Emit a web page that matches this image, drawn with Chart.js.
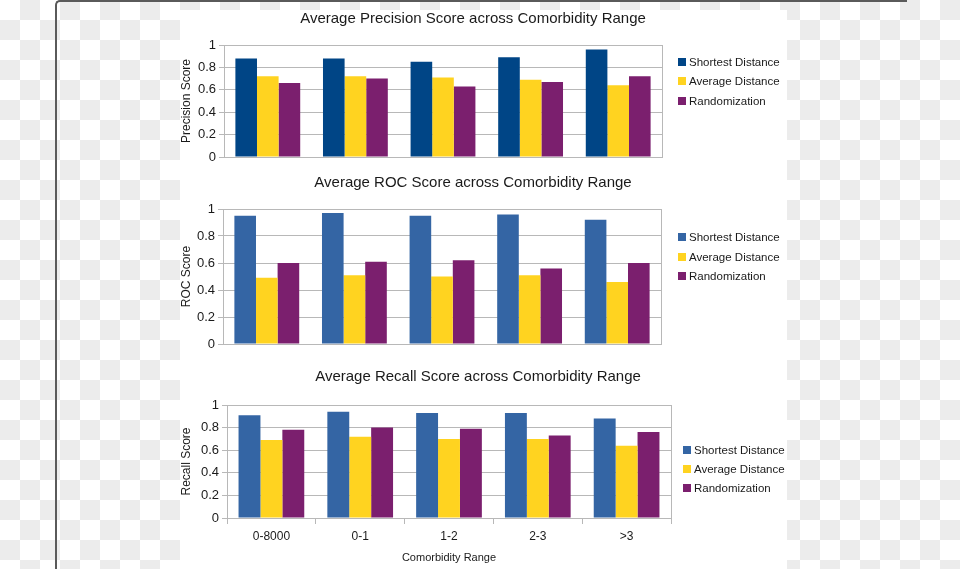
<!DOCTYPE html>
<html>
<head>
<meta charset="utf-8">
<script src="https://cdn.jsdelivr.net/npm/chart.js@4"></script>
<style>
  html, body { margin: 0; padding: 0; }
  body {
    width: 960px; height: 569px; overflow: hidden; position: relative;
    background: repeating-conic-gradient(#ececec 0 25%, #ffffff 0 50%) 0 0 / 40px 40px;
    font-family: "Liberation Sans", Arial, sans-serif;
  }
  #frame {
    position: absolute; left: 55px; top: 0px; width: 850px; height: 600px;
    border-left: 2px solid #5a5a5a; border-top: 2px solid #5a5a5a;
    border-top-left-radius: 5px;
  }
  #panel { position: absolute; left: 180px; top: 10px; width: 607px; height: 559px; background: #fff; }
  canvas { position: absolute; left: 180px; }
</style>
</head>
<body>
<div id="frame"></div>
<div id="panel"></div>
<canvas id="c1" width="606" height="165" style="top:10px"></canvas>
<canvas id="c2" width="606" height="185" style="top:175px"></canvas>
<canvas id="c3" width="606" height="207" style="top:362px"></canvas>
<script>
// ---- data ----
const categories = ['0-8000', '0-1', '1-2', '2-3', '>3'];
const seriesNames = ['Shortest Distance', 'Average Distance', 'Randomization'];

const precisionShortest = [0.88, 0.88, 0.85, 0.89, 0.96];
const precisionAverage  = [0.72, 0.72, 0.71, 0.69, 0.64];
const precisionRandom   = [0.66, 0.70, 0.63, 0.67, 0.72];

const rocShortest = [0.95, 0.97, 0.95, 0.96, 0.92];
const rocAverage  = [0.49, 0.51, 0.50, 0.51, 0.46];
const rocRandom   = [0.60, 0.61, 0.62, 0.56, 0.60];

const recallShortest = [0.91, 0.94, 0.93, 0.93, 0.88];
const recallAverage  = [0.69, 0.72, 0.70, 0.70, 0.64];
const recallRandom   = [0.78, 0.80, 0.79, 0.73, 0.76];

const yMin = 0, yMax = 1, yStep = 0.2;

// ---- styling ----
const FONT = '"Liberation Sans", Arial, sans-serif';
const YELLOW = '#ffd320';
const PURPLE = '#7b1f6e';
const GRID = '#b8b8b8';

// titulo + legenda + moldura do grafico
const decorPlugin = {
  id: 'decor',
  beforeDatasetsDraw(chart, args, opts) {
    const a = chart.chartArea;
    const ctx = chart.ctx;
    ctx.save();
    ctx.strokeStyle = GRID;
    ctx.lineWidth = 1;
    ctx.strokeRect(Math.round(a.left) + 0.5, Math.round(a.top) + 0.5,
      Math.round(a.right - a.left), Math.round(a.bottom - a.top));
    ctx.restore();
  },
  afterDraw(chart, args, opts) {
    const ctx = chart.ctx;
    ctx.save();
    ctx.fillStyle = '#1a1a1a';
    ctx.font = '15px ' + FONT;
    ctx.textAlign = 'center';
    ctx.textBaseline = 'middle';
    ctx.fillText(opts.title, opts.titleX, opts.titleY);

    ctx.font = '11.5px ' + FONT;
    ctx.textAlign = 'left';
    chart.data.datasets.forEach((ds, i) => {
      const y = opts.legendY[i];
      ctx.fillStyle = ds.backgroundColor;
      ctx.fillRect(opts.legendX, y - 4, 8, 8);
      ctx.fillStyle = '#1a1a1a';
      ctx.fillText(ds.label, opts.legendX + 11, y + 1);
    });
    ctx.restore();
  }
};

function criarGrafico(id, cfg) {
  const datasets = cfg.values.map((vals, i) => ({
    label: seriesNames[i],
    data: vals,
    backgroundColor: [cfg.blue, YELLOW, PURPLE][i],
    borderWidth: 0,
    categoryPercentage: 0.74,
    barPercentage: 1.0
  }));

  return new Chart(document.getElementById(id), {
    type: 'bar',
    data: { labels: categories, datasets },
    plugins: [decorPlugin],
    options: {
      responsive: false,
      animation: false,
      layout: { padding: { top: cfg.padTop, right: cfg.padRight, left: 0, bottom: 0 } },
      plugins: {
        legend: { display: false },
        title: { display: false },
        tooltip: { enabled: false },
        decor: cfg.decor
      },
      scales: {
        x: {
          offset: true,
          grid: {
            display: cfg.showX,
            drawOnChartArea: false,
            drawTicks: cfg.showX,
            tickLength: 6,
            color: GRID
          },
          border: { display: true, color: GRID },
          ticks: {
            display: cfg.showX,
            color: '#1a1a1a',
            padding: 5,
            font: { family: FONT, size: 12 }
          },
          title: {
            display: cfg.showX,
            text: 'Comorbidity Range',
            color: '#1a1a1a',
            font: { family: FONT, size: 11 },
            padding: { top: 0, bottom: 4 }
          },
          afterFit: s => { s.height = cfg.xHeight; }
        },
        y: {
          min: yMin,
          max: yMax,
          ticks: {
            stepSize: yStep,
            color: '#1a1a1a',
            padding: 3,
            font: { family: FONT, size: 13 },
            callback: v => String(+v.toFixed(2))
          },
          grid: { color: GRID, tickLength: 5 },
          border: { display: true, color: GRID },
          title: {
            display: true,
            text: cfg.yTitle,
            color: '#1a1a1a',
            font: { family: FONT, size: 12, lineHeight: 1 },
            padding: { top: 1, bottom: 0 }
          },
          afterFit: s => { s.width = cfg.yWidth; }
        }
      }
    }
  });
}

criarGrafico('c1', {
  values: [precisionShortest, precisionAverage, precisionRandom],
  blue: '#004586',
  yTitle: 'Precision Score',
  padTop: 35, padRight: 124, yWidth: 44, xHeight: 18, showX: false,
  decor: {
    title: 'Average Precision Score across Comorbidity Range',
    titleX: 293, titleY: 9,
    legendX: 498, legendY: [52, 71, 91]
  }
});

criarGrafico('c2', {
  values: [rocShortest, rocAverage, rocRandom],
  blue: '#3465a4',
  yTitle: 'ROC Score',
  padTop: 34, padRight: 125, yWidth: 43, xHeight: 16, showX: false,
  decor: {
    title: 'Average ROC Score across Comorbidity Range',
    titleX: 293, titleY: 8,
    legendX: 498, legendY: [62, 82, 101]
  }
});

criarGrafico('c3', {
  values: [recallShortest, recallAverage, recallRandom],
  blue: '#3465a4',
  yTitle: 'Recall Score',
  padTop: 43, padRight: 115, yWidth: 47, xHeight: 51, showX: true,
  decor: {
    title: 'Average Recall Score across Comorbidity Range',
    titleX: 298, titleY: 15,
    legendX: 503, legendY: [88, 107, 126]
  }
});
</script>
</body>
</html>
